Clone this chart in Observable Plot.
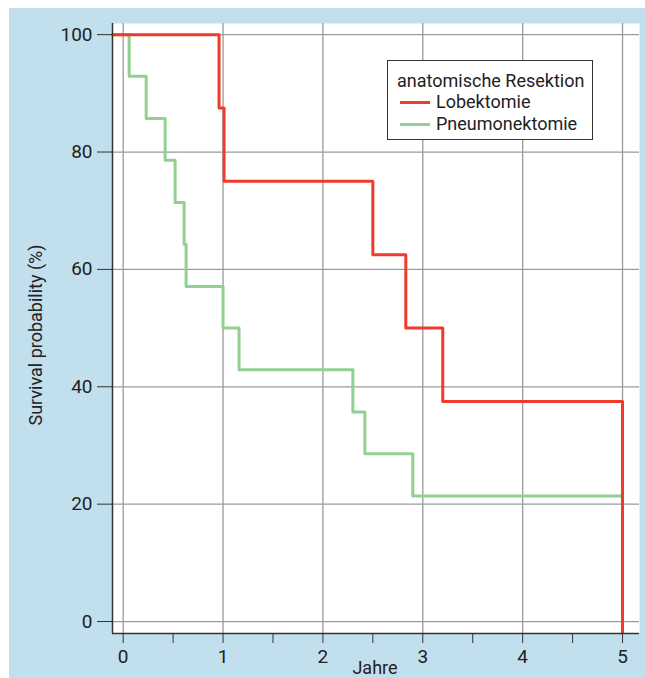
<!DOCTYPE html>
<html>
<head>
<meta charset="utf-8">
<script src="https://cdn.jsdelivr.net/npm/d3@7"></script>
<script src="https://cdn.jsdelivr.net/npm/@observablehq/plot@0.6"></script>
<style>
  html, body { margin: 0; padding: 0; background: #ffffff; }
  #wrap { position: relative; width: 645px; height: 678px; overflow: hidden; font-family: Roboto, "Open Sans", sans-serif; color: #222; }
  #bg { position: absolute; left: 9px; top: 8px; width: 636px; height: 670px; background: #c2dfee; }
  #chart { position: absolute; left: 0; top: 0; }
  #chart svg g[aria-label$="tick label"] text { font-size: 19px; }
  #ylab { position: absolute; left: 35px; top: 335px; transform: translate(-50%, -50%) rotate(-90deg); white-space: nowrap; font-size: 18px; }
  #xlab { position: absolute; left: 375px; top: 667px; transform: translate(-50%, -50%); font-size: 18px; }
  #legend { position: absolute; left: 387px; top: 60px; width: 204px; height: 78px; background: #fff; border: 1px solid #333; font-size: 18px; }
  #legend .title { position: absolute; left: 9px; top: 9px; line-height: 22px; white-space: nowrap; }
  #legend .row { position: absolute; left: 12px; line-height: 22px; white-space: nowrap; }
  #legend .sw { display: inline-block; width: 30px; height: 3px; vertical-align: middle; margin-right: 6px; position: relative; top: -1px; }
</style>
</head>
<body>
<div id="wrap">
  <div id="bg"></div>
  <div id="chart"></div>
  <div id="ylab">Survival probability (%)</div>
  <div id="xlab">Jahre</div>
  <div id="legend"></div>
</div>
<script>
// ---- data ----
const groupNames = ["Lobektomie", "Pneumonektomie"];
const groupColors = ["#ef3b2c", "#91d091"];
const legendTitle = "anatomische Resektion";

const lobeTime = [0, 0.96, 1.01, 2.50, 2.83, 3.20, 5.00];
const lobeSurv = [100, 87.5, 75, 62.5, 50, 37.5, 0];

const pneuTime = [0, 0.06, 0.23, 0.42, 0.52, 0.61, 0.63, 1.00, 1.16, 2.30, 2.42, 2.90, 5.00];
const pneuSurv = [100, 92.9, 85.7, 78.6, 71.4, 64.3, 57.1, 50.0, 42.9, 35.7, 28.6, 21.4, 21.4];

const xTicks = [0, 1, 2, 3, 4, 5];
const xMinorTicks = [0.5, 1.5, 2.5, 3.5, 4.5];
const yTicks = [0, 20, 40, 60, 80, 100];
const xDomain = [-0.107, 5.17];
const yDomain = [-2.04, 101.9];

// ---- build rows ----
function series(name, times, surv) {
  const rows = [{group: name, t: xDomain[0], s: surv[0]}];
  times.forEach((t, i) => rows.push({group: name, t, s: surv[i]}));
  return rows;
}
const lobe = series(groupNames[0], lobeTime, lobeSurv);
const pneu = series(groupNames[1], pneuTime, pneuSurv);
const lastLobe = lobe[lobe.length - 1];

const chart = Plot.plot({
  width: 645,
  height: 678,
  marginLeft: 112,
  marginRight: 6,
  marginTop: 23,
  marginBottom: 45,
  style: {background: "transparent", fontFamily: "Roboto, 'Open Sans', sans-serif", fontSize: "19px", color: "#222"},
  x: {domain: xDomain},
  y: {domain: yDomain},
  marks: [
    Plot.frame({fill: "white", stroke: null}),
    Plot.gridX(xTicks, {stroke: "#9a9a9a", strokeOpacity: 1, strokeWidth: 1.3}),
    Plot.gridY(yTicks, {stroke: "#9a9a9a", strokeOpacity: 1, strokeWidth: 1.3}),
    Plot.line(pneu, {x: "t", y: "s", curve: "step-after", stroke: groupColors[1], strokeWidth: 3}),
    Plot.line(lobe, {x: "t", y: "s", curve: "step-after", stroke: groupColors[0], strokeWidth: 3}),
    Plot.ruleX([lastLobe], {x: "t", y1: "s", y2: () => yDomain[0], stroke: groupColors[0], strokeWidth: 3}),
    Plot.ruleX([xDomain[0]], {stroke: "#333", strokeWidth: 1.5}),
    Plot.ruleY([yDomain[0]], {stroke: "#333", strokeWidth: 1.5}),
    Plot.axisY(yTicks, {tickSize: 15, tickPadding: 5, stroke: "#333", label: null, fontSize: 19}),
    Plot.axisX(xTicks, {tickSize: 10, tickPadding: 6, stroke: "#333", label: null, fontSize: 19}),
    Plot.axisX(xMinorTicks, {tickSize: 10, tickFormat: () => "", stroke: "#333", label: null})
  ]
});
document.getElementById("chart").appendChild(chart);

// ---- legend ----
const leg = document.getElementById("legend");
const title = document.createElement("div");
title.className = "title";
title.textContent = legendTitle;
leg.appendChild(title);
groupNames.forEach((name, i) => {
  const row = document.createElement("div");
  row.className = "row";
  row.style.top = (30 + i * 22) + "px";
  const sw = document.createElement("span");
  sw.className = "sw";
  sw.style.background = groupColors[i];
  row.appendChild(sw);
  row.appendChild(document.createTextNode(name));
  leg.appendChild(row);
});
</script>
</body>
</html>
